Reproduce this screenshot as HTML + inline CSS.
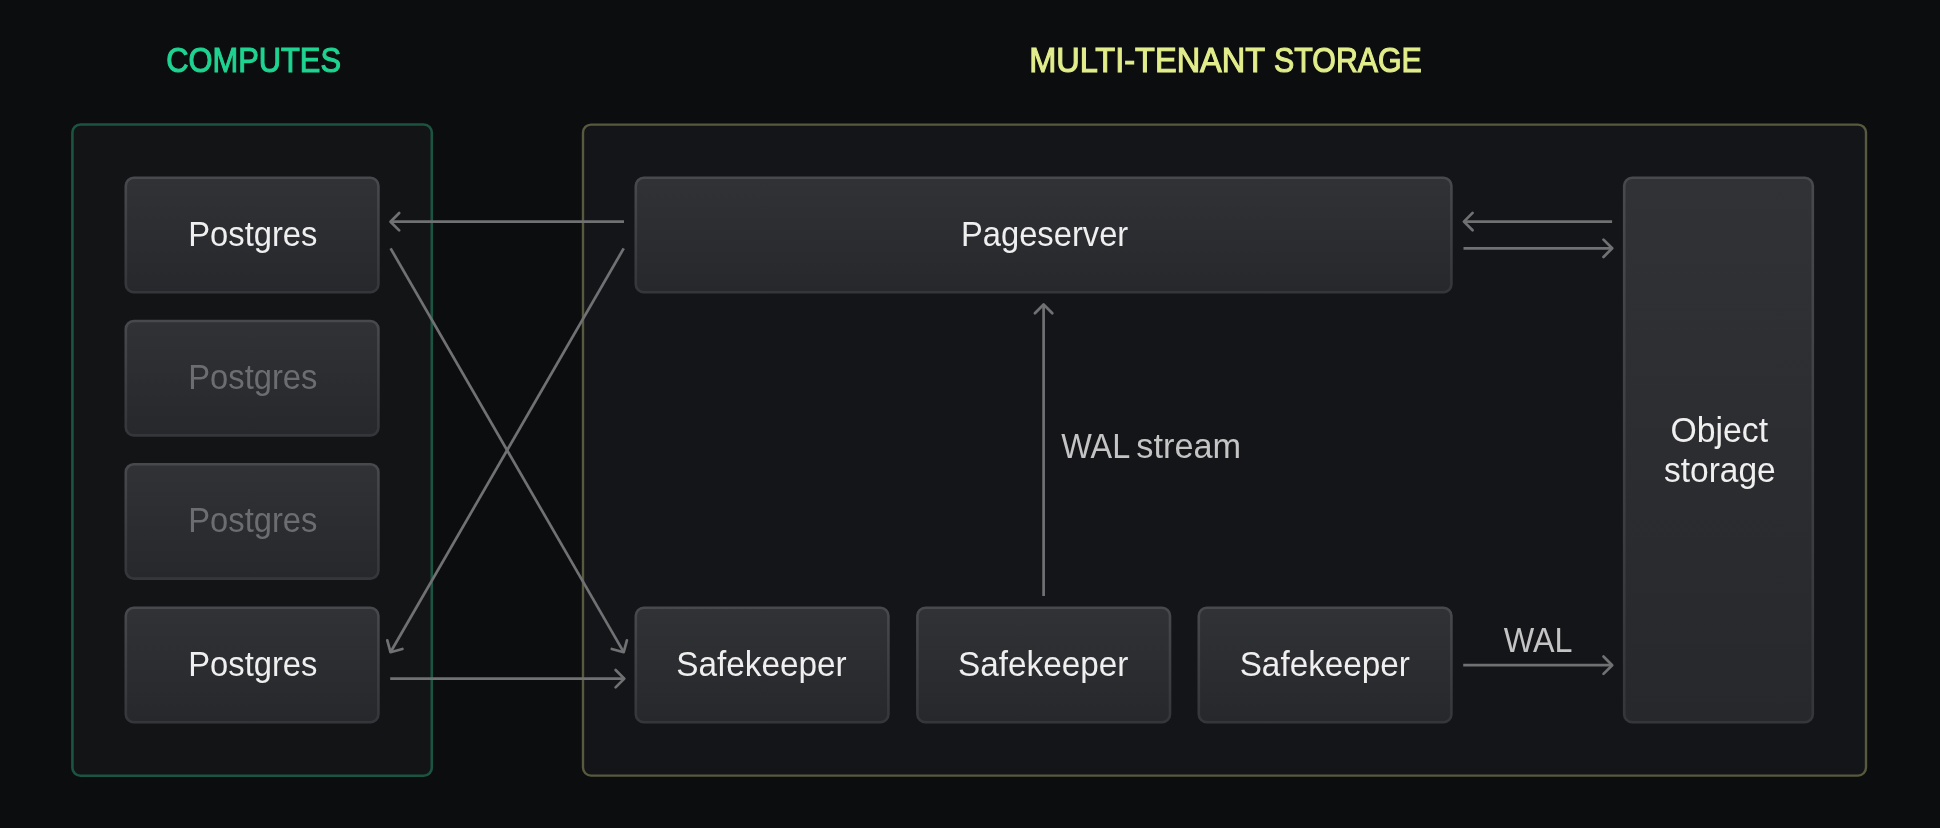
<!DOCTYPE html>
<html lang="en">
<head>
<meta charset="utf-8">
<title>Architecture</title>
<style>
  html, body { margin: 0; padding: 0; background: #0c0d0e; }
  body { width: 1940px; height: 828px; overflow: hidden; font-family: "Liberation Sans", sans-serif; }
  svg { display: block; will-change: transform; }
  text { font-family: "Liberation Sans", sans-serif; }
</style>
</head>
<body>
<svg width="1940" height="828" viewBox="0 0 1940 828">
  <defs>
    <linearGradient id="boxFill" x1="0" y1="0" x2="0" y2="1">
      <stop offset="0" stop-color="#313236"/>
      <stop offset="1" stop-color="#27282b"/>
    </linearGradient>
    <linearGradient id="boxStroke" x1="0" y1="0" x2="0" y2="1">
      <stop offset="0" stop-color="#48494d"/>
      <stop offset="1" stop-color="#35363a"/>
    </linearGradient>
    <linearGradient id="objFill" x1="0" y1="0" x2="0" y2="1">
      <stop offset="0" stop-color="#313236"/>
      <stop offset="1" stop-color="#27282b"/>
    </linearGradient>
  </defs>

  <rect x="0" y="0" width="1940" height="828" fill="#0c0d0e"/>

  <!-- group containers -->
  <rect id="computes" x="72.4" y="124.5" width="359.4" height="651.2" rx="8" ry="8" fill="#131416" stroke="#1b5441" stroke-width="2.6"/>
  <rect id="storage" x="583" y="124.6" width="1283" height="651" rx="8" ry="8" fill="#141518" stroke="#575a3e" stroke-width="2.4"/>

  <!-- titles -->
  <text id="t-computes" x="166.18" y="72.2" font-size="34.6" fill="#1fd391" stroke="#1fd391" stroke-width="1.1" textLength="174.85" lengthAdjust="spacingAndGlyphs">COMPUTES</text>
  <text id="ts1" x="1029.13" y="72.2" font-size="34.6" fill="#e2ed8b" stroke="#e2ed8b" stroke-width="1.1" textLength="236.03" lengthAdjust="spacingAndGlyphs">MULTI-TENANT</text>
  <text id="ts2" x="1274.09" y="72.2" font-size="34.6" fill="#e2ed8b" stroke="#e2ed8b" stroke-width="1.1" textLength="147.77" lengthAdjust="spacingAndGlyphs">STORAGE</text>

  <!-- arrows -->
  <g fill="none" stroke="#707173" stroke-width="2.7" stroke-linecap="butt">
    <path d="M624 221.7 H390.5"/>
    <path d="M390.6 248.4 L623.7 652.2"/>
    <path d="M623.7 248.4 L390.5 652.2"/>
    <path d="M390.2 678.65 H624.2"/>
    <path d="M1612.1 221.6 H1463.9"/>
    <path d="M1463.5 248.3 H1612.2"/>
    <path d="M1043.6 596 V304.5"/>
    <path d="M1463.2 665.2 H1612.2"/>
  </g>
  <g fill="none" stroke="#707173" stroke-width="2.7" stroke-linecap="round" stroke-linejoin="round">
    <path d="M399.2 213 L390.5 221.7 L399.2 230.4"/>
    <path d="M626.9 640.3 L623.7 652.2 L611.8 649"/>
    <path d="M387.3 640.3 L390.5 652.2 L402.4 649"/>
    <path d="M615.6 669.95 L624.3 678.65 L615.6 687.35"/>
    <path d="M1472.6 212.9 L1463.9 221.6 L1472.6 230.3"/>
    <path d="M1603.5 239.6 L1612.2 248.3 L1603.5 257"/>
    <path d="M1034.9 313.2 L1043.6 304.5 L1052.3 313.2"/>
    <path d="M1603.5 656.5 L1612.2 665.2 L1603.5 673.9"/>
  </g>

  <!-- boxes -->
  <g fill="url(#boxFill)" stroke="url(#boxStroke)" stroke-width="2.6">
    <rect x="125.8" y="177.8" width="252.6" height="114.4" rx="8" ry="8"/>
    <rect x="125.8" y="321" width="252.6" height="114.4" rx="8" ry="8"/>
    <rect x="125.8" y="464.2" width="252.6" height="114.4" rx="8" ry="8"/>
    <rect x="125.8" y="607.8" width="252.6" height="114.4" rx="8" ry="8"/>
    <rect x="635.8" y="177.8" width="815.6" height="114.4" rx="8" ry="8"/>
    <rect x="635.8" y="607.8" width="252.6" height="114.4" rx="8" ry="8"/>
    <rect x="917.4" y="607.8" width="252.6" height="114.4" rx="8" ry="8"/>
    <rect x="1198.8" y="607.8" width="252.6" height="114.4" rx="8" ry="8"/>
    <rect x="1624.2" y="177.8" width="188.6" height="544.4" rx="8" ry="8"/>
  </g>

  <!-- box labels -->
  <g font-size="35" fill="#efefef">
    <text id="pg1" x="188.25" y="245.6" textLength="129.12" lengthAdjust="spacingAndGlyphs">Postgres</text>
    <text id="pg2" x="188.25" y="388.8" fill="#6c6d70" textLength="129.12" lengthAdjust="spacingAndGlyphs">Postgres</text>
    <text id="pg3" x="188.25" y="532" fill="#6c6d70" textLength="129.12" lengthAdjust="spacingAndGlyphs">Postgres</text>
    <text id="pg4" x="188.25" y="675.6" textLength="129.12" lengthAdjust="spacingAndGlyphs">Postgres</text>
    <text id="ps" x="960.98" y="245.7" textLength="167.30" lengthAdjust="spacingAndGlyphs">Pageserver</text>
    <text id="sk1" x="676.30" y="676.2" textLength="170.38" lengthAdjust="spacingAndGlyphs">Safekeeper</text>
    <text id="sk2" x="958.04" y="676.2" textLength="170.33" lengthAdjust="spacingAndGlyphs">Safekeeper</text>
    <text id="sk3" x="1239.67" y="676.2" textLength="170.32" lengthAdjust="spacingAndGlyphs">Safekeeper</text>
    <text id="ob1" x="1670.44" y="442.3" textLength="97.63" lengthAdjust="spacingAndGlyphs">Object</text>
    <text id="ob2" x="1663.97" y="482.4" textLength="111.76" lengthAdjust="spacingAndGlyphs">storage</text>
  </g>
  <g font-size="35" fill="#c4c4c5">
    <text id="ws1" x="1061.18" y="457.9" textLength="69.03" lengthAdjust="spacingAndGlyphs">WAL</text>
    <text id="ws2" x="1136.35" y="457.9" textLength="104.78" lengthAdjust="spacingAndGlyphs">stream</text>
    <text id="wal" x="1503.84" y="652.2" textLength="68.69" lengthAdjust="spacingAndGlyphs">WAL</text>
  </g>
</svg>
</body>
</html>
